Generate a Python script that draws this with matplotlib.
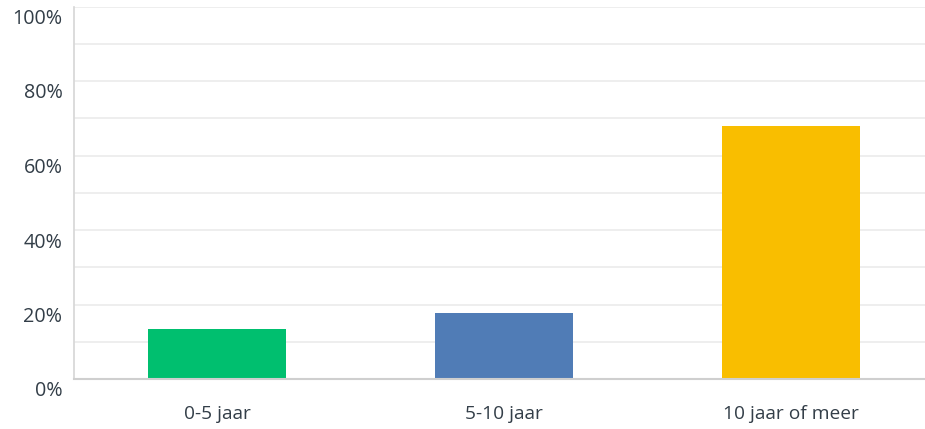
import matplotlib
matplotlib.use("Agg")
import matplotlib.pyplot as plt
from matplotlib.transforms import ScaledTranslation
from matplotlib.ticker import MultipleLocator, FuncFormatter

# gegevens
categories = ["0-5 jaar", "5-10 jaar", "10 jaar of meer"]
percentages = [13.3, 17.8, 68.0]
bar_colors = ["#00BF6F", "#507CB6", "#F9BE00"]

plt.rcParams['font.family'] = ['Open Sans', 'DejaVu Sans']
text_color = "#333e48"

fig = plt.figure(figsize=(9.25, 4.29), dpi=100)
ax = fig.add_axes([73.5 / 925, 50 / 429, 861 / 925, 372.5 / 429])

ax.bar(range(len(categories)), percentages, width=0.484, color=bar_colors, zorder=3)

ax.set_xlim(-0.5, 2.5)
ax.set_ylim(0, 100)
ax.yaxis.set_major_locator(MultipleLocator(20))
ax.yaxis.set_minor_locator(MultipleLocator(10))
ax.yaxis.set_major_formatter(FuncFormatter(lambda v, p: f"{v:.0f}%"))
ax.set_xticks(range(len(categories)))
ax.set_xticklabels(categories)

ax.grid(axis='y', which='both', color='#ededed', lw=1.3, zorder=0)
ax.tick_params(axis='x', which='both', length=0, colors=text_color, labelsize=13.8, pad=19)
ax.tick_params(axis='y', which='both', length=0, colors=text_color, labelsize=14.2, pad=8)

for s in ['top', 'right']:
    ax.spines[s].set_visible(False)
ax.spines['left'].set_color('#d6d6d6')
ax.spines['bottom'].set_color('#cfcfcf')
ax.spines['left'].set_linewidth(1.2)
ax.spines['bottom'].set_linewidth(1.5)
ax.spines['bottom'].set_zorder(4)

# y-labels staan iets onder de lijnen
offset = ScaledTranslation(0, -10 / 100, fig.dpi_scale_trans)
for lab in ax.get_yticklabels():
    lab.set_transform(lab.get_transform() + offset)

fig.savefig("out.png", dpi=100)
